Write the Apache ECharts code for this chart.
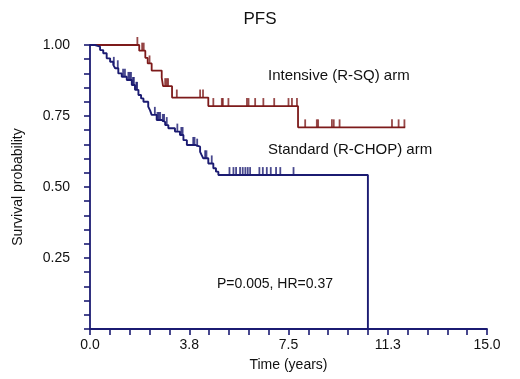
<!DOCTYPE html>
<html>
<head>
<meta charset="utf-8">
<script src="https://cdn.jsdelivr.net/npm/echarts@6/dist/echarts.min.js"></script>
<style>
  html, body { margin: 0; padding: 0; background: #fff; }
  #chart { width: 520px; height: 379px; }
</style>
</head>
<body>
<div id="chart"></div>
<script>
// 标准组 (R-CHOP) 事件时间 / 生存率
var stdTimes = [0, 0.19, 0.38, 0.50, 0.63, 0.76, 0.88, 0.95, 1.07, 1.20, 1.39, 1.58, 1.70, 1.83, 1.93, 2.02,
  2.20, 2.27, 2.33, 2.52, 2.71, 2.84, 2.96, 3.21, 3.40, 3.53, 3.66, 3.97, 4.16, 4.22, 4.28, 4.47, 4.66, 4.76, 4.85, 10.50];
var stdSurv = [1.0, 0.994, 0.982, 0.971, 0.953, 0.941, 0.930, 0.918, 0.900, 0.888, 0.877, 0.859, 0.842, 0.824, 0.812, 0.800,
  0.783, 0.770, 0.754, 0.736, 0.729, 0.718, 0.707, 0.695, 0.683, 0.665, 0.648, 0.642, 0.624, 0.612, 0.601, 0.583, 0.566, 0.554, 0.542, 0];
var stdCensor = [0.9, 1.05, 1.25, 1.32, 1.45, 1.5, 1.55, 1.62, 1.66, 1.75, 1.78, 2.45, 2.55, 2.6, 2.65, 2.75, 2.8, 2.9,
  3.3, 3.45, 3.5, 3.9, 3.95, 4.05, 4.35, 4.4, 4.6,
  5.27, 5.42, 5.52, 5.67, 5.77, 5.87, 5.96, 6.05, 6.40, 6.53, 6.68, 6.83, 7.03, 7.19, 7.69];

// 强化组 (R-SQ)
var intTimes = [0, 1.86, 2.09, 2.18, 2.33, 2.71, 2.76, 3.10, 4.47, 7.86, 11.91];
var intSurv = [1.0, 0.98, 0.955, 0.935, 0.91, 0.885, 0.855, 0.815, 0.785, 0.71, 0.71];
var intCensor = [1.79, 1.97, 2.03, 2.25, 2.84, 2.90, 2.95, 3.28, 4.16, 4.27,
  4.66, 4.98, 5.02, 5.23, 5.93, 5.99, 6.24, 6.55, 6.96, 7.50, 7.63, 7.82,
  8.13, 8.57, 8.62, 9.14, 9.21, 9.43, 11.41, 11.66, 11.88];

var xTicks = ['0.0', '3.8', '7.5', '11.3', '15.0'];

var navy = '#1b1b72';
var maroon = '#7d1a1a';

function toPairs(ts, ss) {
  return ts.map(function (t, i) { return [t, ss[i]]; });
}
// 删失点所在的生存率水平
function levelAt(ts, ss, t) {
  var v = ss[0];
  for (var i = 0; i < ts.length; i++) {
    if (ts[i] <= t) v = ss[i];
  }
  return v;
}
function censorPairs(cs, ts, ss) {
  return cs.map(function (t) { return [t, levelAt(ts, ss, t)]; });
}

var chart = echarts.init(document.getElementById('chart'));
var font = 'Liberation Sans, Arial, sans-serif';

var option = {
  animation: false,
  title: {
    text: 'PFS',
    left: 'center',
    top: 6,
    textStyle: { fontSize: 17, fontWeight: 'normal', color: '#111', fontFamily: font }
  },
  grid: { left: 90, right: 33, top: 45, bottom: 50 },
  xAxis: {
    type: 'value',
    min: 0,
    max: 15,
    interval: 3.75,
    name: 'Time (years)',
    nameLocation: 'middle',
    nameGap: 29,
    nameTextStyle: { fontSize: 14, color: '#111', fontFamily: font },
    axisLine: { lineStyle: { color: navy, width: 1.8 } },
    axisTick: { length: 6, lineStyle: { color: navy, width: 1.6 } },
    minorTick: { show: true, splitNumber: 5, length: 6, lineStyle: { color: navy, width: 1.6 } },
    axisLabel: {
      fontSize: 14, color: '#111', fontFamily: font, margin: 9,
      formatter: function (v) { return xTicks[Math.round(v / 3.75)]; }
    },
    splitLine: { show: false }
  },
  yAxis: {
    type: 'value',
    min: 0,
    max: 1,
    interval: 0.25,
    name: 'Survival probability',
    nameLocation: 'middle',
    nameGap: 65,
    nameTextStyle: { fontSize: 14, color: '#111', fontFamily: font },
    axisLine: { show: true, lineStyle: { color: navy, width: 1.8 } },
    axisTick: { show: true, length: 6, lineStyle: { color: navy, width: 1.6 } },
    minorTick: { show: true, splitNumber: 5, length: 6, lineStyle: { color: navy, width: 1.6 } },
    axisLabel: {
      fontSize: 14, color: '#111', fontFamily: font, margin: 20,
      formatter: function (v) { return v === 0 ? '' : v.toFixed(2); }
    },
    splitLine: { show: false }
  },
  graphic: [
    { type: 'text', left: 268, top: 68, style: { text: 'Intensive (R-SQ) arm', fontSize: 15, fill: '#111', fontFamily: font } },
    { type: 'text', left: 268, top: 142, style: { text: 'Standard (R-CHOP) arm', fontSize: 15, fill: '#111', fontFamily: font } },
    { type: 'text', left: 217, top: 277, style: { text: 'P=0.005, HR=0.37', fontSize: 14, fill: '#111', fontFamily: font } }
  ],
  series: [
    {
      name: 'Standard',
      type: 'line',
      step: 'end',
      showSymbol: false,
      lineStyle: { color: navy, width: 1.9 },
      data: toPairs(stdTimes, stdSurv),
      z: 3
    },
    {
      name: 'Intensive',
      type: 'line',
      step: 'end',
      showSymbol: false,
      lineStyle: { color: maroon, width: 1.8 },
      data: toPairs(intTimes, intSurv),
      z: 2
    },
    {
      name: 'Standard censored',
      type: 'scatter',
      symbol: 'rect',
      symbolSize: [1.8, 8],
      symbolOffset: [0, -4],
      itemStyle: { color: navy },
      data: censorPairs(stdCensor, stdTimes, stdSurv),
      z: 4
    },
    {
      name: 'Intensive censored',
      type: 'scatter',
      symbol: 'rect',
      symbolSize: [1.8, 8],
      symbolOffset: [0, -4],
      itemStyle: { color: maroon },
      data: censorPairs(intCensor, intTimes, intSurv),
      z: 4
    }
  ]
};

chart.setOption(option);
</script>
</body>
</html>
